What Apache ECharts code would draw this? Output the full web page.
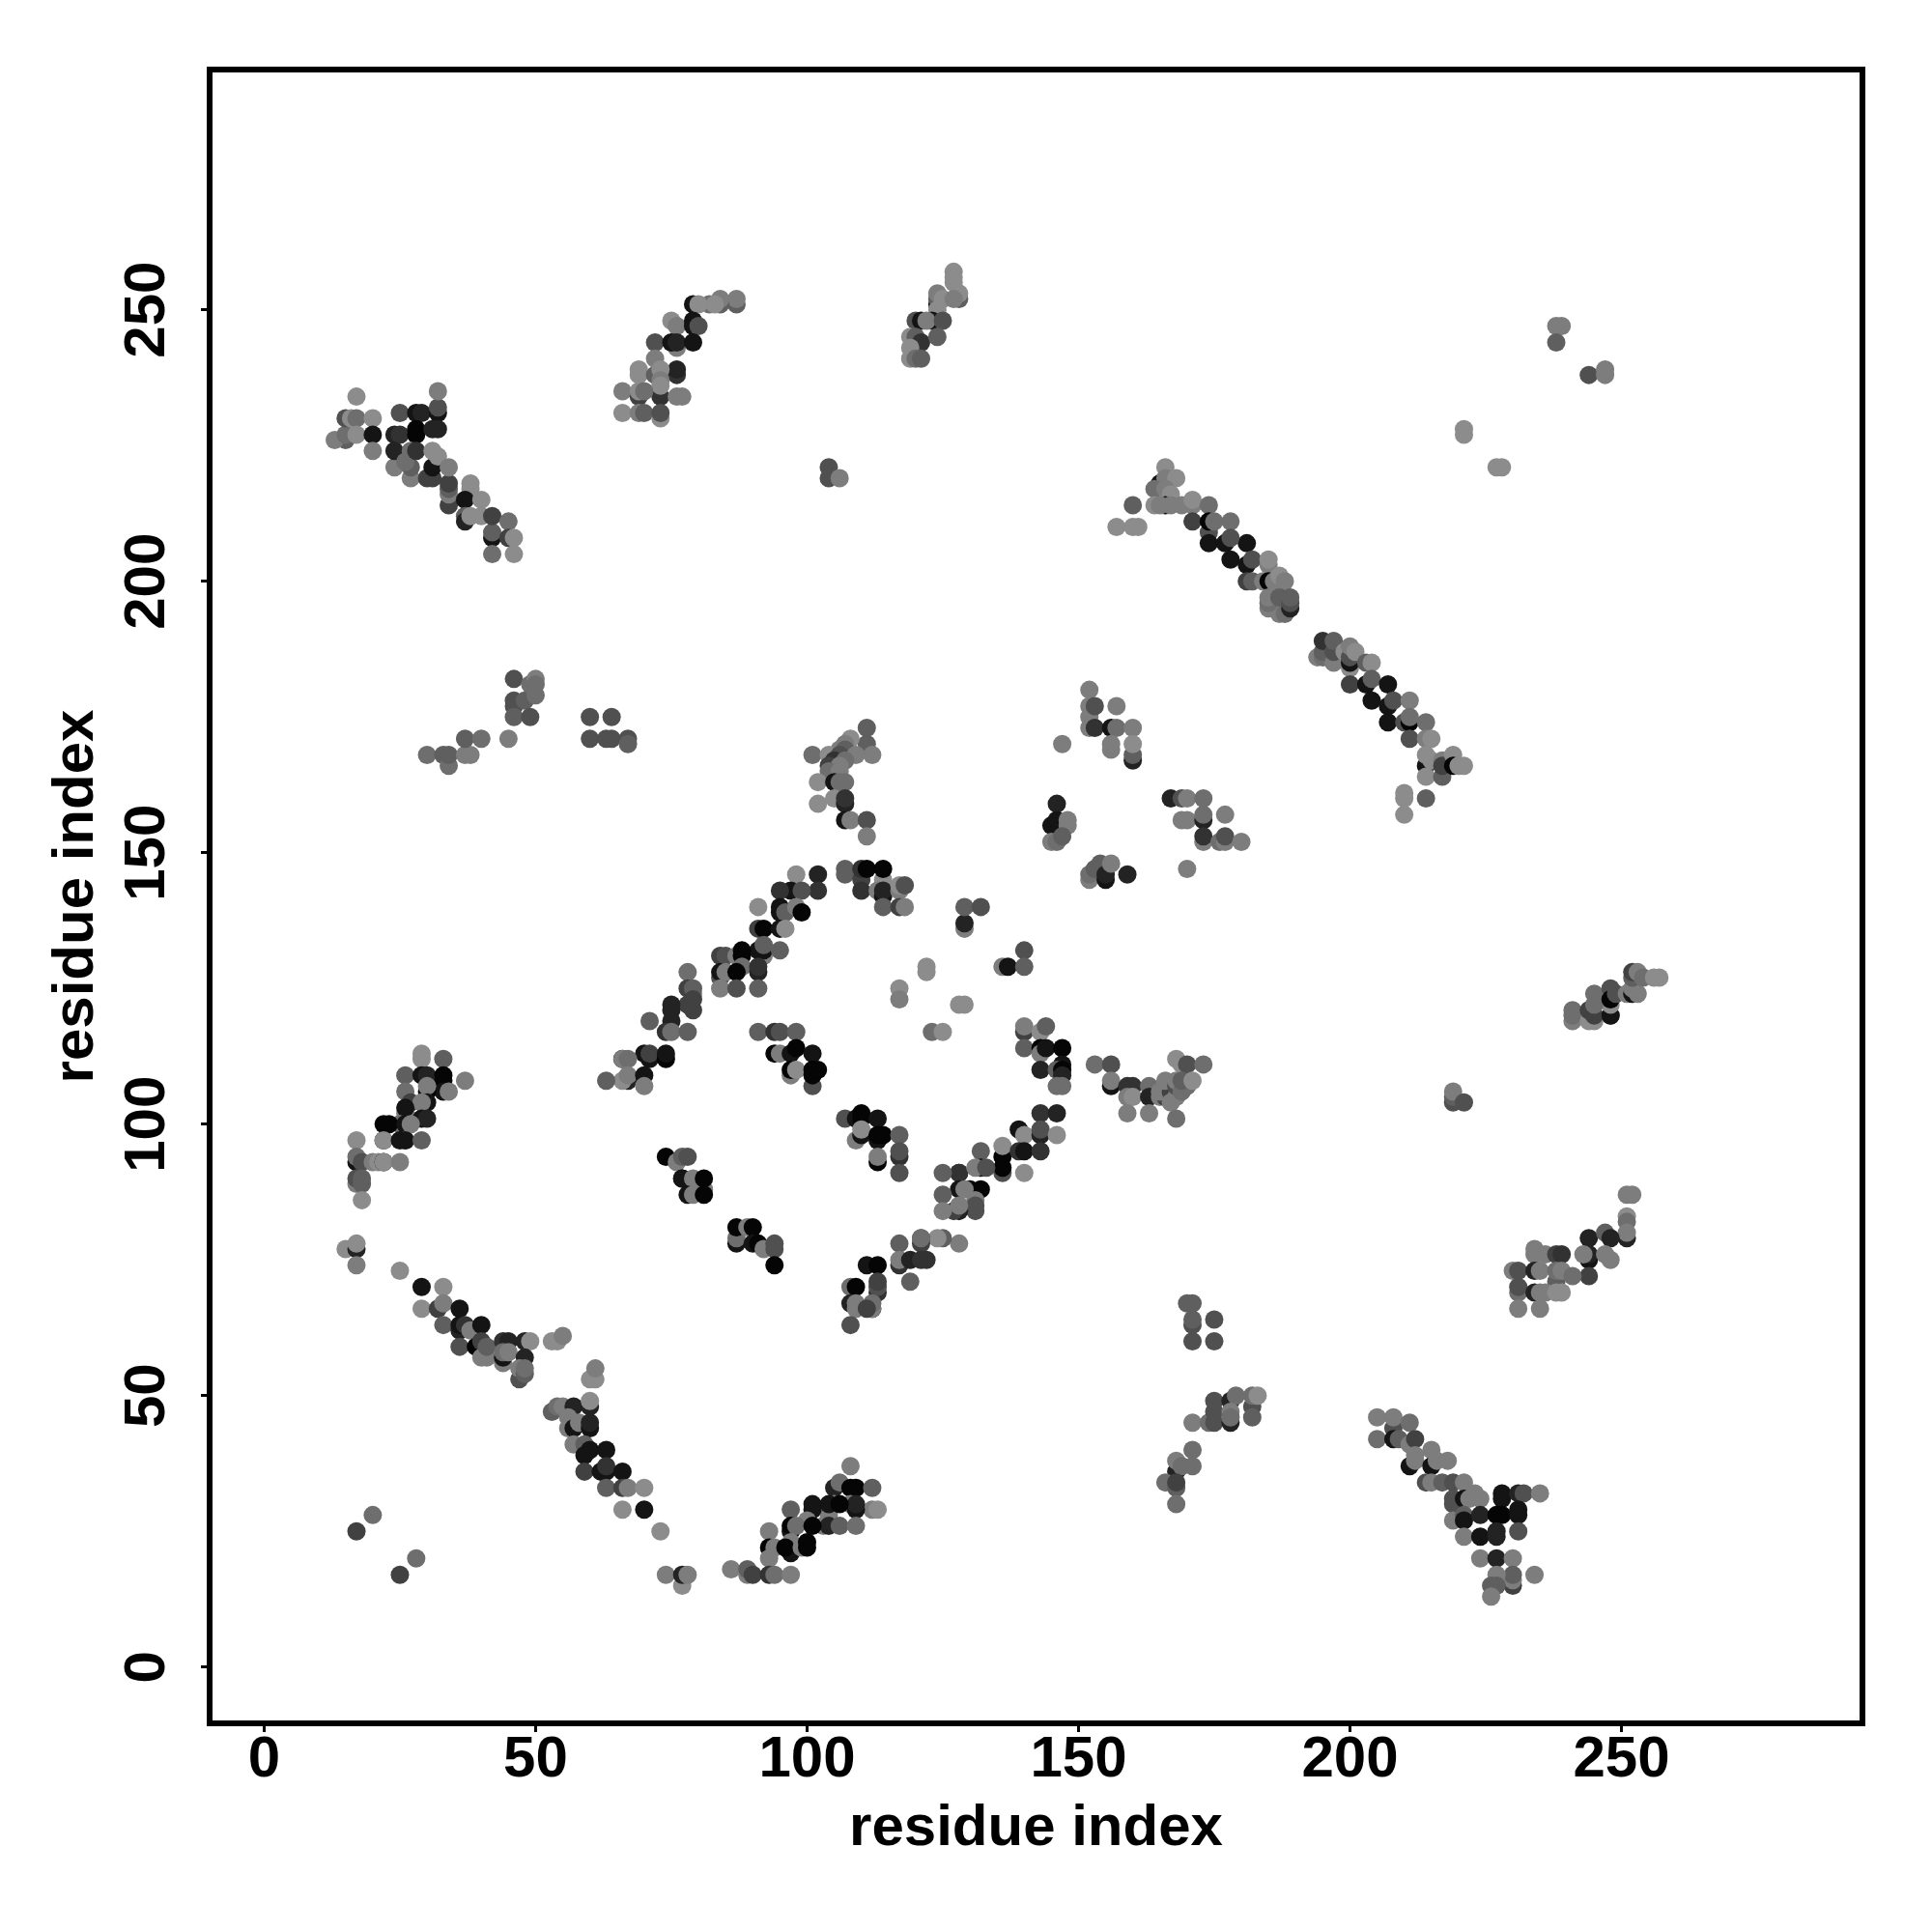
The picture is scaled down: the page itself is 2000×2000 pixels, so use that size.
<!DOCTYPE html>
<html><head><meta charset="utf-8">
<style>html,body{margin:0;padding:0;background:#fff}#c{width:2000px;height:2000px}</style>
<script src="https://cdn.jsdelivr.net/npm/echarts@6/dist/echarts.min.js"></script>
</head><body><div id="c"></div>
<script>
// each contact: [residue x, residue y, strength 0 (weak) .. 9 (strong)]
const tickValues = [0, 50, 100, 150, 200, 250];
const axisTitle = "residue index";
const topLeftBand = [[15,226,3],[13,226,1],[15,227,2],[15,230,4],[16,230,0],[17,230,2],[17,227,0],[17,234,0],[20,230,0],[20,227,8],[20,224,1],[25,231,4],[24,227,7],[25,227,6],[28,231,8],[29,231,7],[28,228,9],[28,227,9],[32,231,8],[32,232,4],[32,235,1],[31,228,7],[32,228,7],[24,221,1],[24,224,7],[27,219,1],[27,221,3],[26,222,2],[27,224,2],[28,224,6],[30,219,5],[31,219,5],[31,221,8],[31,224,0],[32,223,0],[34,214,5],[34,216,1],[34,217,3],[34,218,5],[34,221,1],[38,217,0],[38,218,0],[37,215,8],[40,215,0],[37,212,3],[37,211,7],[38,212,0],[40,212,0],[42,208,8],[42,209,3],[42,212,5],[45,211,2],[45,208,5],[46,208,0],[42,205,2],[46,205,0]];
const topArcA = [[87,251,3],[87,252,1],[84,251,3],[84,252,1],[82,251,2],[79,251,8],[80,251,0],[83,251,0],[75,248,0],[76,247,1],[79,248,8],[79,247,8],[80,247,4],[72,244,4],[76,243,1],[75,244,8],[76,244,7],[79,244,8],[72,241,1],[69,239,0],[69,238,0],[72,238,3],[76,238,6],[76,239,7],[73,239,0],[73,237,1],[73,234,6],[73,236,0],[66,235,1],[69,234,5],[69,235,0],[70,235,2],[76,234,1],[77,234,1],[66,231,0],[69,231,1],[70,231,3],[73,230,0],[73,231,4]];
const topArcB = [[127,257,0],[127,256,0],[127,255,0],[124,251,8],[128,252,3],[128,253,0],[124,252,3],[124,253,1],[125,252,0],[127,252,1],[124,250,0],[120,248,4],[121,248,8],[123,248,8],[122,248,1],[125,248,4],[119,245,0],[120,245,3],[121,244,6],[124,245,3],[119,243,0],[119,241,0],[120,241,2],[121,241,3]];
const farTopRight = [[221,228,0],[221,227,0],[227,221,0],[228,221,0],[238,247,1],[239,247,1],[238,244,3],[244,238,4],[247,238,1],[247,239,1],[104,221,4],[104,219,4],[106,219,1]];
const longBandUpper = [[166,221,0],[165,218,8],[166,219,1],[168,219,0],[164,217,2],[166,217,1],[167,216,0],[166,214,8],[164,214,0],[165,214,1],[167,214,1],[169,214,1],[171,214,1],[171,215,0],[174,214,2],[160,214,3],[157,210,0],[160,210,0],[161,210,0],[171,211,5],[174,209,4],[174,211,9],[175,211,2],[178,211,2],[174,207,8],[177,207,8],[181,207,8],[178,208,4],[178,204,8],[181,203,8],[182,204,4],[185,203,1],[185,204,0],[181,200,5],[182,200,3],[184,200,1],[185,200,9],[186,200,1],[187,201,0],[188,200,1],[185,195,1],[187,194,1],[188,194,2],[185,196,2],[185,197,1],[189,195,7],[187,197,3],[189,196,4],[189,197,3]];
const longBandLower = [[194,186,1],[195,186,2],[195,187,3],[195,189,6],[197,185,1],[197,187,4],[197,189,3],[199,187,0],[200,184,0],[200,185,8],[200,186,4],[200,188,1],[201,187,0],[203,185,3],[204,185,0],[200,181,5],[203,181,8],[204,182,3],[207,181,8],[204,178,8],[207,177,8],[208,178,4],[211,178,1],[207,174,8],[210,174,4],[211,174,9],[211,175,2],[214,174,2],[211,171,4],[214,171,1],[215,171,0],[214,166,8],[214,164,0],[214,168,0],[215,167,0],[217,164,3],[217,167,1],[217,166,5],[219,168,0],[219,166,9],[220,166,0],[221,166,0],[210,157,0],[210,160,0],[210,161,0],[214,160,3]];
const midLeftGroup = [[30,168,2],[33,168,3],[34,166,2],[34,168,3],[37,168,1],[38,168,1],[37,171,3],[40,171,2],[45,171,1],[46,182,4],[46,178,4],[46,177,4],[46,175,3],[48,178,3],[49,175,4],[49,181,2],[50,182,1],[50,181,2],[50,179,2],[60,175,4],[64,175,4],[60,171,4],[63,171,4],[64,171,4],[67,171,4],[67,170,3]];
const centreTopGroup = [[111,173,3],[111,170,3],[112,168,1],[101,168,2],[108,171,0],[107,170,1],[106,169,1],[107,169,3],[104,168,0],[106,168,4],[109,168,1],[105,167,6],[107,167,2],[104,166,5],[106,166,1],[104,165,2],[106,165,1],[102,163,0],[105,163,8],[106,163,2],[107,163,2],[102,159,0],[105,160,0],[107,159,7],[107,160,6],[107,156,8],[108,156,1],[111,156,4],[111,153,1]];
const ridgeTop = [[107,147,3],[107,146,3],[110,145,5],[110,147,6],[111,147,9],[114,145,0],[114,147,9],[110,143,6],[113,143,1],[114,142,8],[114,143,7],[117,143,1],[117,144,0],[118,144,4],[114,140,3],[117,140,5],[118,140,1]];
const ridgeRising = [[102,146,7],[98,146,0],[102,143,6],[97,143,8],[99,143,4],[95,143,6],[91,140,0],[95,139,8],[95,140,8],[96,139,3],[98,140,1],[99,139,9],[91,136,5],[92,136,9],[95,136,8],[96,136,0],[92,131,1],[91,132,8],[92,132,8],[92,133,3],[95,132,3],[84,131,5],[85,131,4],[87,131,1],[88,131,9],[88,132,9],[84,127,4],[84,128,8],[85,128,1],[88,129,2],[87,128,9],[91,128,7],[91,129,6],[84,125,1],[87,125,4],[91,125,3],[78,128,2],[79,124,1],[78,125,5],[79,125,3],[79,121,5],[78,122,5],[79,123,5],[75,121,7],[75,122,7],[75,119,7],[71,119,3],[74,117,6],[75,117,2],[78,117,3],[70,113,8],[71,112,8],[71,113,5],[74,112,9],[74,113,8],[66,112,9],[66,112,1],[67,112,2],[67,108,7],[66,108,0],[67,109,1],[70,109,8],[70,107,1],[63,108,3]];
const innerGroupA = [[91,117,3],[94,117,6],[95,117,4],[98,117,3],[94,113,9],[95,113,1],[97,113,8],[98,114,9],[101,113,8],[97,109,1],[97,110,9],[98,110,0],[101,107,4],[101,109,9],[101,110,9],[102,110,9]];
const innerGroupB = [[107,101,4],[109,101,8],[110,102,9],[110,101,9],[113,101,8],[109,97,1],[110,98,8],[110,99,0],[113,97,8],[113,98,9],[114,98,9],[117,98,3],[117,94,6],[117,95,4],[113,93,9],[113,94,1],[117,91,4]];
const ridgeFalling = [[143,102,6],[146,102,7],[139,99,8],[140,98,0],[143,98,7],[143,99,4],[146,98,0],[136,94,9],[136,96,0],[139,95,6],[140,95,8],[143,95,6],[132,95,3],[136,91,4],[136,92,9],[140,91,0],[128,91,8],[128,91,6],[132,92,8],[131,92,1],[133,92,4],[125,91,3],[130,88,9],[132,88,9],[128,88,8],[129,88,1],[125,87,3],[131,86,1],[131,84,4],[131,85,4],[128,84,7],[127,84,5],[128,85,1],[125,84,1]];
const ridgeFoot = [[128,78,1],[125,79,3],[124,79,0],[121,78,5],[121,79,5],[121,79,2],[117,78,3],[117,74,6],[117,75,1],[119,75,7],[121,75,6],[122,75,6],[119,71,3],[111,74,8],[113,74,9],[113,69,6],[113,70,4],[113,71,5],[108,70,2],[109,70,9],[112,66,9],[112,66,1],[112,67,2],[108,67,7],[109,66,1],[109,67,1],[111,66,5],[108,63,4]];
const innerGroupC = [[74,94,9],[76,93,1],[77,94,3],[78,94,4],[77,90,9],[77,90,8],[79,90,1],[81,88,1],[81,90,9],[78,87,8],[79,87,1],[81,87,9]];
const innerGroupD = [[87,78,8],[87,79,2],[87,81,9],[89,81,1],[90,81,9],[90,78,8],[91,78,9],[92,77,1],[94,77,4],[94,78,4],[94,74,9]];
const leftBandUpper = [[29,112,0],[29,113,0],[33,112,3],[26,109,3],[29,109,8],[30,109,7],[33,108,9],[33,109,9],[37,108,1],[33,106,8],[34,106,1],[26,106,2],[30,106,9],[30,107,1],[27,104,5],[30,104,8],[29,104,1],[26,102,1],[26,103,8],[29,101,8],[30,101,7],[25,100,2],[22,100,9],[23,100,9],[26,100,8],[27,100,1],[22,97,9],[22,97,0],[26,97,1],[25,97,8],[26,97,8],[29,97,3],[17,97,0],[17,93,8],[17,94,2],[18,93,4],[20,93,1],[21,93,0],[22,93,9],[22,93,0],[25,93,1],[17,89,1],[17,90,4],[18,89,3],[18,90,3],[18,86,0]];
const leftBandLower = [[15,77,0],[17,77,7],[17,78,0],[17,74,1],[25,73,0],[29,70,8],[33,70,0],[29,66,0],[32,66,5],[33,67,1],[36,66,8],[33,63,3],[36,62,7],[36,63,8],[37,63,6],[38,62,1],[40,63,8],[36,59,4],[39,59,9],[40,60,5],[40,57,1],[41,57,1],[41,59,3],[44,60,6],[45,60,7],[48,60,7],[49,60,0],[44,56,1],[44,57,8],[44,58,2],[45,58,1],[48,57,7],[47,53,4],[47,55,1],[48,54,3],[48,55,2],[53,60,0],[54,60,0],[55,61,1],[60,53,0],[61,53,0],[61,55,1]];
const bottomBandA = [[53,47,3],[54,48,2],[55,48,1],[57,48,7],[60,48,7],[60,49,0],[56,46,1],[56,44,1],[57,44,8],[58,45,1],[60,44,8],[60,45,7],[57,41,1],[59,41,3],[59,39,8],[60,40,8],[63,40,8],[59,36,5],[62,36,8],[63,36,8],[63,37,6],[66,36,8],[63,33,3],[66,33,5],[67,33,1],[70,33,0],[66,29,0],[70,29,8],[73,25,0],[74,17,1],[77,15,0],[77,17,7],[78,17,1]];
const bottomBandB = [[108,37,1],[105,33,7],[106,34,2],[108,33,9],[109,33,9],[112,33,3],[112,29,1],[113,29,0],[108,30,1],[109,29,8],[109,30,7],[104,28,1],[105,30,1],[104,30,8],[106,30,9],[101,29,8],[101,30,8],[97,29,3],[103,26,1],[104,26,7],[106,26,3],[109,26,2],[100,27,1],[97,25,8],[97,26,9],[98,26,2],[101,26,9],[93,25,1],[93,22,9],[94,22,1],[97,21,8],[97,23,1],[96,22,9],[99,22,1],[100,22,9],[100,23,9],[93,20,1],[86,18,1],[89,17,1],[89,18,3],[90,17,5],[93,17,6],[94,17,2],[97,17,1]];
const isolatedLow = [[20,28,2],[17,25,5],[28,20,2],[25,17,5]];
const lowCentreGroup = [[170,67,3],[171,67,3],[171,63,4],[171,64,3],[171,60,4],[175,64,4],[175,60,4],[171,45,1],[174,45,2],[175,45,4],[175,47,4],[175,49,4],[178,49,7],[179,50,2],[178,47,1],[178,45,7],[178,46,2],[182,48,4],[182,50,2],[183,50,0],[182,46,3],[171,40,2],[168,36,7],[168,38,1],[169,37,2],[171,37,2],[166,34,2],[168,33,3],[168,34,5],[168,30,2]];
const rightBandUp = [[251,87,1],[252,87,1],[251,79,7],[251,83,0],[251,82,2],[251,80,1],[244,79,7],[247,80,3],[248,79,7],[244,75,8],[244,76,7],[243,76,1],[247,76,1],[248,75,1],[244,72,5],[234,77,1],[234,76,1],[236,76,1],[238,76,5],[239,76,6],[230,73,1],[231,73,4],[234,73,7],[235,73,1],[238,71,3],[238,73,2],[239,73,1],[241,72,2],[231,69,2],[231,70,4],[234,69,7],[235,69,1],[236,69,1],[238,69,0],[239,69,0],[231,66,1],[235,66,1]];
const rightBandDown = [[205,46,1],[208,44,4],[208,46,1],[211,45,2],[205,42,2],[208,42,8],[209,42,3],[211,41,1],[212,42,5],[215,40,1],[212,39,1],[211,37,8],[212,38,1],[215,37,8],[216,38,1],[218,38,1],[214,34,4],[215,34,1],[217,34,3],[219,34,4],[221,34,1],[219,30,4],[219,31,4],[221,31,8],[222,31,1],[223,32,1],[224,31,1],[219,27,1],[221,28,3],[221,27,8],[224,28,7],[228,31,8],[228,32,8],[227,28,9],[228,28,9],[231,32,7],[232,32,4],[235,32,1],[231,29,8],[231,28,8],[231,25,4],[221,24,1],[224,24,8],[227,24,7],[227,25,7],[224,20,1],[227,20,7],[230,20,1],[230,15,5],[230,16,1],[230,17,3],[227,17,1],[234,17,1],[226,15,3],[227,15,3],[226,13,1]];
const rightSmall = [[219,104,4],[219,105,3],[219,106,1],[221,104,4]];
const rightTopBand = [[241,119,1],[241,120,2],[241,121,2],[244,119,0],[245,119,0],[244,121,5],[245,120,5],[248,120,3],[248,120,8],[248,122,0],[245,122,2],[245,124,2],[248,125,4],[248,123,9],[249,124,4],[251,124,1],[252,124,8],[253,124,1],[252,125,1],[252,127,3],[252,128,5],[253,128,1],[254,127,2],[256,127,0],[257,127,0]];
const centreSmall = [[129,136,1],[129,137,7],[129,140,3],[132,140,4],[140,132,4],[136,129,1],[137,129,8],[140,129,3],[122,129,0],[122,128,0],[117,125,0],[117,123,1],[128,122,0],[129,122,0],[123,117,2],[125,117,0]];
const sideGroupA = [[152,180,1],[152,177,1],[152,175,1],[153,177,4],[157,177,1],[152,173,1],[153,173,6],[156,173,8],[157,173,2],[160,173,1],[156,169,1],[156,170,1],[160,167,7],[160,168,3],[160,170,0],[147,170,1]];
const sideGroupB = [[167,160,7],[169,160,4],[170,160,1],[173,160,2],[169,156,1],[170,156,1],[173,156,7],[173,157,2],[177,157,1],[173,152,1],[173,153,6],[176,152,2],[177,152,1],[177,153,4],[180,152,1],[170,147,1]];
const sideGroupC = [[152,145,1],[152,146,2],[153,147,3],[154,148,3],[155,145,8],[155,146,7],[156,148,1],[159,146,7]];
const sideGroupD = [[146,159,7],[145,155,8],[146,155,8],[146,156,8],[148,155,1],[148,156,1],[145,152,1],[146,152,2],[147,153,3]];
const sideGroupE = [[140,117,5],[140,118,1],[143,117,0],[144,118,3],[140,114,3],[143,114,9],[143,113,1],[144,114,8],[147,114,9],[143,110,7],[147,111,8],[146,110,3],[147,110,9],[147,109,7],[146,107,2],[147,107,2]];
const sideGroupF = [[153,111,2],[156,111,4],[156,107,8],[156,108,1],[159,107,6],[160,107,6],[159,105,1],[160,105,0],[163,107,2],[163,105,7],[159,102,1],[163,102,1],[168,112,0],[169,111,0],[170,111,4],[173,111,2],[165,105,1],[166,105,5],[167,105,3],[165,106,1],[167,106,5],[168,105,1],[167,104,1],[166,108,1],[168,107,4],[168,108,1],[169,106,2],[170,107,2],[169,108,3],[171,108,0],[168,101,2]];

const allContacts = [].concat(topLeftBand, topArcA, topArcB, farTopRight, longBandUpper, longBandLower, midLeftGroup, centreTopGroup, ridgeTop, ridgeRising, innerGroupA, innerGroupB, ridgeFalling, ridgeFoot, innerGroupC, innerGroupD, leftBandUpper, leftBandLower, bottomBandA, bottomBandB, isolatedLow, lowCentreGroup, rightBandUp, rightBandDown, rightSmall, rightTopBand, centreSmall, sideGroupA, sideGroupB, sideGroupC, sideGroupD, sideGroupE, sideGroupF);

function shade(s){ const g = 140 - 15*s; return 'rgb('+g+','+g+','+g+')'; }
const font = {fontFamily:'"Liberation Sans", Arial, sans-serif', fontWeight:'bold', fontSize:60, color:'#000'};
const chart = echarts.init(document.getElementById('c'), null, {renderer:'canvas', width:2000, height:2000});
function axis(lo, hi, rotate, margin, nameGap){
  return {type:'value', min:lo, max:hi, name:axisTitle, nameLocation:'middle', nameGap:nameGap,
    nameTextStyle:font, splitLine:{show:false}, axisLine:{show:false, onZero:false},
    axisTick:{show:true, length:9, inside:false, customValues:tickValues, lineStyle:{color:'#000', width:3}},
    axisLabel:Object.assign({show:true, rotate:rotate, margin:margin, customValues:tickValues, formatter:v=>String(v), hideOverlap:false, showMinLabel:true, showMaxLabel:true}, font)};
}
chart.setOption({
  animation:false, backgroundColor:'#fff',
  grid:{left:217, top:72, width:1711, height:1712, show:true, backgroundColor:'transparent', borderColor:'#000', borderWidth:6, containLabel:false},
  xAxis:axis(-10.05, 294.4, 0, 8, 79),
  yAxis:axis(-10.37, 294.25, 90, 34, 108),
  series:[{type:'scatter', data:allContacts, symbol:'circle', symbolSize:19, clip:false,
    encode:{x:0,y:1}, itemStyle:{opacity:1, color:p=>shade(p.value[2])}, large:false, progressive:0}]
});
</script></body></html>
